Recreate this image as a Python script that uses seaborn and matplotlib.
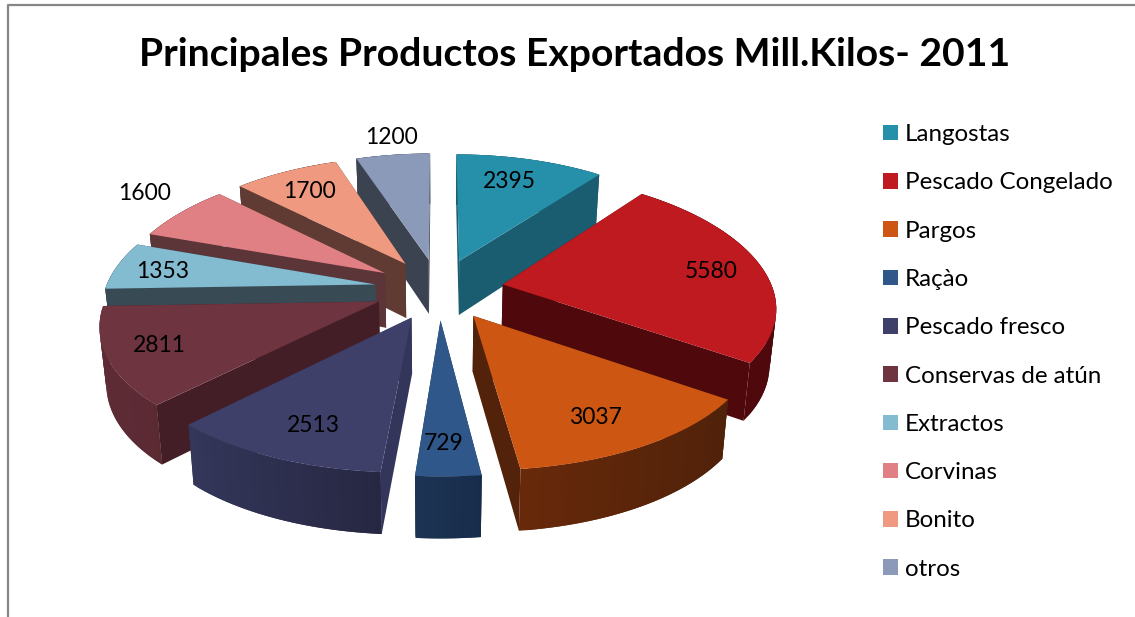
import numpy as np
import matplotlib
matplotlib.use("Agg")
import matplotlib.pyplot as plt
from matplotlib.colors import to_rgb
from matplotlib.patches import Patch
from matplotlib.transforms import Transform
import seaborn as sns

sns.set_theme(style="white")
plt.rcParams['font.family'] = ['Lato', 'DejaVu Sans']

title = "Principales Productos Exportados Mill.Kilos- 2011"
products = ["Langostas", "Pescado Congelado", "Pargos", "Raçào", "Pescado fresco",
            "Conservas de atún", "Extractos", "Corvinas", "Bonito", "otros"]
kilos = [2395, 5580, 3037, 729, 2513, 2811, 1353, 1600, 1700, 1200]

top_colors = ["#2690aa", "#bf1a20", "#cc5612", "#30578a", "#3e4069",
              "#6e343f", "#83bbd0", "#e08084", "#ee9980", "#8a9ab8"]
wall_colors = ["#1a5d70", "#4f080b", "#52220a", "#1b3050", "#33355a",
               "#431e26", "#384b55", "#5c3538", "#5f3b33", "#3b4250"]
rim_left = ["#1a5d70", "#4f080b", "#68290a", "#1c3453", "#34365a",
            "#5e2b35", "#384b55", "#5c3538", "#5f3b33", "#3b4250"]
rim_right = ["#1a5d70", "#4f080b", "#50220a", "#182c4a", "#262741",
             "#5a2a33", "#384b55", "#5c3538", "#5f3b33", "#3b4250"]

# where the value labels sit on the picture, pixels
label_xy = [(509, 181), (711, 271), (595, 417), (444, 443), (313, 426),
            (159, 345), (163, 271), (145, 193), (309, 191), (391, 137)]

# fake 3d view of the unit pie
CX, CY, RX, RY = 439, 289, 270, 127
TILT_X, TILT_Y = 0.156, 0.129
EXPLODE = 0.24


def project(x, y):
    return CX + RX * x / (1 + TILT_X * y), CY - RY * y / (1 + TILT_Y * y)


def drop(px, py):
    # bottom face is a bit narrower and the side is taller towards the front
    return CX + (px - CX) * 0.98, py + 54 + (py - 258) * 0.0365


class PieView(Transform):
    input_dims = 2
    output_dims = 2
    is_separable = False

    def transform_non_affine(self, values):
        values = np.asarray(values)
        px, py = project(values[:, 0], values[:, 1])
        return np.column_stack([px, py])


def rim_point(wedge, deg):
    a = np.deg2rad(deg)
    return project(wedge.center[0] + np.cos(a), wedge.center[1] + np.sin(a))


def draw_sides(ax, wedge, i, z):
    cx, cy = project(*wedge.center)
    cbx, cby = drop(cx, cy)
    for deg in (wedge.theta1, wedge.theta2):
        rx, ry = rim_point(wedge, deg)
        rbx, rby = drop(rx, ry)
        ax.fill([cx, rx, rbx, cbx], [cy, ry, rby, cby],
                color=wall_colors[i], lw=0, zorder=z)
    # outer rim in thin strips, shaded left to right
    degs = np.linspace(wedge.theta1, wedge.theta2, 40)
    xs, ys = rim_point(wedge, degs)
    bx, by = drop(xs, ys)
    left = np.array(to_rgb(rim_left[i]))
    right = np.array(to_rgb(rim_right[i]))
    for k in range(len(degs) - 1):
        t = (xs[k] - xs.min()) / (xs.max() - xs.min())
        # each strip runs on under the next one, no seams that way
        e = min(k + 2, len(degs) - 1)
        ax.fill(np.r_[xs[k:e + 1], bx[k:e + 1][::-1]], np.r_[ys[k:e + 1], by[k:e + 1][::-1]],
                color=left + (right - left) * t, lw=0, zorder=z + 0.1 + k * 0.001)


fig = plt.figure(figsize=(11.35, 6.17), dpi=100)
ax = fig.add_axes([0, 0, 1, 1])

palette = sns.color_palette(top_colors)
wedges, _ = ax.pie(kilos, explode=[EXPLODE] * len(kilos), colors=palette, startangle=90,
                   counterclock=False, radius=1, wedgeprops={'linewidth': 0})
ax.set_aspect('auto')
ax.set_xlim(0, 1135)
ax.set_ylim(617, 0)
ax.axis('off')

view = PieView() + ax.transData
# back slices first so the front ones cover them
mids = [np.sin(np.deg2rad((w.theta1 + w.theta2) / 2)) for w in wedges]
for rank, i in enumerate(np.argsort(mids)[::-1]):
    z = 10 + rank
    draw_sides(ax, wedges[i], i, z)
    wedges[i].set_transform(view)
    wedges[i].set_zorder(z + 0.5)

for val, (lx, ly) in zip(kilos, label_xy):
    ax.text(lx, ly, str(val), ha='center', va='center', fontsize=16.5, color='black', zorder=50)

ax.text(575, 55, title, ha='center', va='center', fontsize=28.2, fontweight='bold', color='black')

# chart border, only top and left are on the crop
ax.plot([7.5, 7.5, 1135], [617, 4.5, 4.5], color='#868686', lw=1.6, clip_on=False)

handles = [Patch(color=c, lw=0) for c in palette]
ax.legend(handles, products, loc='upper left', bbox_to_anchor=(883, 124),
          bbox_transform=ax.transData, frameon=False, fontsize=17.4, labelcolor='black',
          handlelength=0.62, handleheight=0.62, handletextpad=0.3,
          labelspacing=1.13, borderpad=0, borderaxespad=0)

fig.savefig("out.png", dpi=100)
